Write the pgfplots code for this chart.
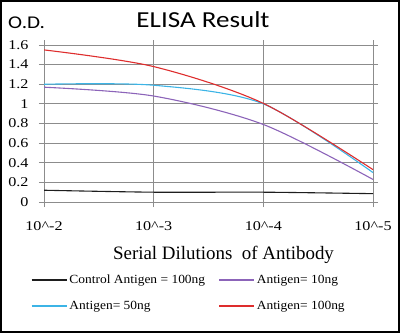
\documentclass[border=0pt]{standalone}
\usepackage{fontspec}
\usepackage{pgfplots}
\pgfplotsset{compat=1.18}
\setmainfont{Liberation Serif}
\newfontfamily\tickfont[FakeStretch=1.2]{Liberation Serif}
\newfontfamily\legfont[FakeStretch=1.08]{Liberation Serif}
\newfontfamily\calfont[FakeStretch=1.18]{Carlito}
\definecolor{cred}{RGB}{222,45,45}
\definecolor{ccyan}{RGB}{60,180,230}
\definecolor{cpurple}{RGB}{140,100,185}
\definecolor{cblack}{RGB}{30,30,30}
\definecolor{gridgray}{RGB}{140,140,140}
\begin{document}
\begin{tikzpicture}[x=1bp,y=1bp]
\useasboundingbox (0,0) rectangle (400,-333);
\begin{axis}[
  at={(44bp,-202bp)}, anchor=south west,
  scale only axis, width=329bp, height=157bp,
  xmin=0, xmax=3, ymin=0, ymax=1.6,
  xtick={0,1,2,3},
  xticklabels={10\textasciicircum-2,10\textasciicircum-3,10\textasciicircum-4,10\textasciicircum-5},
  ytick={0,0.2,0.4,0.6,0.8,1,1.2,1.4,1.6},
  yticklabels={0,0.2,0.4,0.6,0.8,1,1.2,1.4,1.6},
  grid=major,
  major grid style={color=gridgray, line width=1bp},
  axis line style={color=gridgray, line width=1bp},
  tick style={color=gridgray, line width=1bp},
  tick align=outside, major tick length=5bp,
  ticklabel style={font=\tickfont\fontsize{13.5}{13.5}\selectfont, text=black},
  yticklabel style={xshift=-7bp},
  xticklabel style={yshift=-11bp},
  legend columns=2,
  legend style={at={(axis description cs:-0.04,-0.45)}, anchor=north west,
    draw=none, fill=none, inner sep=0pt,
    font=\legfont\fontsize{12.5}{12.5}\selectfont,
    row sep=12bp},
  legend image code/.code={\draw[#1, line width=1.4bp] (0bp,0bp) -- (35bp,0bp);},
  legend cell align=left,
]
\addplot[cblack, smooth, line width=1.1bp] coordinates {(0,0.12) (1,0.10) (2,0.10) (3,0.085)};
\addlegendentry{\makebox[147bp][l]{Control Antigen = 100ng}}
\addplot[cpurple, smooth, line width=1.1bp] coordinates {(0,1.17) (1,1.08) (2,0.79) (3,0.23)};
\addlegendentry{Antigen= 10ng}
\addplot[ccyan, smooth, line width=1.1bp] coordinates {(0,1.20) (1,1.19) (2,1.00) (3,0.30)};
\addlegendentry{\makebox[147bp][l]{Antigen= 50ng}}
\addplot[cred, smooth, line width=1.1bp] coordinates {(0,1.55) (1,1.38) (2,1.005) (3,0.33)};
\addlegendentry{Antigen= 100ng}
\end{axis}
\node[anchor=base, font=\calfont\fontsize{23}{23}\selectfont] at (203,-27) {ELISA Result};
\node[anchor=base west, inner sep=0pt, font=\calfont\fontsize{18}{18}\selectfont] at (8,-28) {O.D.};
\node[anchor=base, font=\fontsize{19}{19}\selectfont] at (223.5,-259) {Serial Dilutions\ \ of Antibody};
\draw[line width=2bp, black] (1,-1) rectangle (399,-332);
\end{tikzpicture}
\end{document}
